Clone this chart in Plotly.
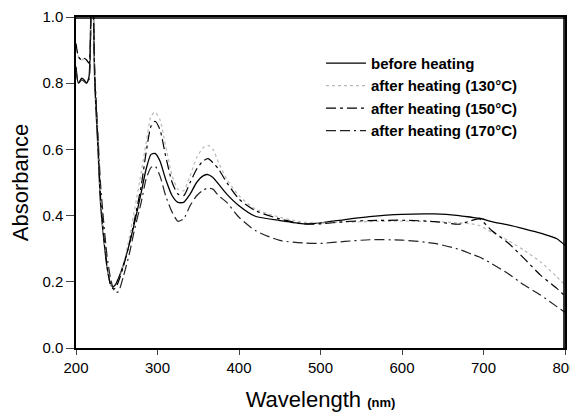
import plotly.graph_objects as go

wl = [200, 203, 207, 210, 213, 216, 219, 221, 223, 227, 230, 234, 238, 242, 245, 248, 252,
      258, 265, 272, 280, 286, 292, 297, 303, 310, 318, 325, 332, 340, 348, 356, 362, 368,
      375, 385, 400, 420, 450, 480, 500, 530, 560, 600, 640, 670, 685, 695, 710, 730, 750,
      770, 790, 800]

before = [0.85, 0.80, 0.815, 0.81, 0.80, 0.82, 1.10, 1.05, 0.80, 0.60, 0.44, 0.33, 0.245,
          0.195, 0.185, 0.19, 0.21, 0.25, 0.31, 0.38, 0.47, 0.54, 0.585, 0.588, 0.565, 0.51,
          0.46, 0.44, 0.44, 0.465, 0.50, 0.52, 0.524, 0.515, 0.495, 0.465, 0.43, 0.398, 0.385,
          0.375, 0.378, 0.388, 0.397, 0.404, 0.405, 0.40, 0.395, 0.392, 0.382, 0.372, 0.36,
          0.347, 0.33, 0.31]

heat130 = [0.92, 0.88, 0.87, 0.875, 0.87, 0.86, 1.10, 1.05, 0.82, 0.62, 0.46, 0.34, 0.25,
           0.195, 0.18, 0.18, 0.20, 0.25, 0.33, 0.42, 0.53, 0.62, 0.70, 0.713, 0.69, 0.61,
           0.52, 0.48, 0.475, 0.52, 0.575, 0.605, 0.612, 0.60, 0.56, 0.51, 0.46, 0.42, 0.395,
           0.38, 0.378, 0.38, 0.382, 0.383, 0.382, 0.378, 0.375, 0.37, 0.35, 0.325, 0.295,
           0.26, 0.215, 0.19]

heat150 = [0.92, 0.88, 0.87, 0.875, 0.87, 0.86, 1.10, 1.05, 0.82, 0.62, 0.46, 0.34, 0.25,
           0.195, 0.18, 0.18, 0.20, 0.245, 0.31, 0.39, 0.49, 0.59, 0.67, 0.685, 0.66, 0.58,
           0.50, 0.465, 0.46, 0.50, 0.54, 0.565, 0.572, 0.56, 0.54, 0.50, 0.45, 0.415, 0.39,
           0.375, 0.375, 0.382, 0.385, 0.386, 0.382, 0.374, 0.385, 0.39, 0.355, 0.318, 0.27,
           0.22, 0.18, 0.157]

heat170 = [0.84, 0.80, 0.81, 0.805, 0.80, 0.81, 1.10, 1.05, 0.84, 0.64, 0.50, 0.38, 0.28,
           0.215, 0.185, 0.168, 0.17, 0.215, 0.28, 0.36, 0.44, 0.51, 0.545, 0.55, 0.52, 0.46,
           0.41, 0.383, 0.39, 0.43, 0.46, 0.477, 0.483, 0.48, 0.46, 0.44, 0.395, 0.355, 0.325,
           0.317, 0.316, 0.322, 0.327, 0.326, 0.316, 0.298, 0.284, 0.275, 0.255, 0.225, 0.19,
           0.16, 0.125, 0.108]

x_ticks = [200, 300, 400, 500, 600, 700, 800]
y_ticks = [0.0, 0.2, 0.4, 0.6, 0.8, 1.0]

FONT = "Arial, Liberation Sans, sans-serif"

fig = go.Figure()
series = [
    ("before heating", before, dict(color="black", width=1.3, dash="solid")),
    ("after heating (130\u00b0C)", heat130, dict(color="#b8b8b8", width=1.2, dash="dot")),
    ("after heating (150\u00b0C)", heat150, dict(color="black", width=1.2, dash="10px,4px,3px,4px")),
    ("after heating (170\u00b0C)", heat170, dict(color="#222222", width=1.2, dash="10px,4px,10px,4px,2px,4px")),
]
for name, ys, ln in series:
    fig.add_trace(go.Scatter(x=wl, y=ys, mode="lines", name="<b>" + name + "</b>",
                             line=dict(shape="spline", smoothing=0.6, **ln)))

fig.update_layout(
    width=578, height=417,
    margin=dict(l=68, r=21, t=9, b=77),
    paper_bgcolor="white", plot_bgcolor="white",
    font=dict(family=FONT, color="black", size=16),
    showlegend=True,
    legend=dict(x=0.501, y=0.91, xanchor="left", yanchor="top",
                bgcolor="rgba(0,0,0,0)", borderwidth=0,
                font=dict(family=FONT, size=15, color="black"),
                tracegroupgap=0, itemwidth=40),
    shapes=[
        dict(type="line", xref="paper", yref="paper", x0=0, x1=1, y0=0.997, y1=0.997,
             line=dict(color="black", width=1.6), layer="above"),
        dict(type="line", xref="paper", yref="paper", x0=0.998, x1=0.998, y0=0, y1=1,
             line=dict(color="black", width=1.6), layer="above"),
    ],
)
fig.update_xaxes(range=[200, 800], tickvals=x_ticks, ticks="outside", ticklen=5,
                 showline=True, linecolor="black", linewidth=1.5, mirror=True,
                 showgrid=False, zeroline=False, automargin=False,
                 ticklabeloverflow="allow",
                 tickfont=dict(size=15, family=FONT),
                 title=dict(text="Wavelength <b><span style='font-size:13px'>(nm)</span></b>",
                            font=dict(size=22, family=FONT), standoff=17))
fig.update_yaxes(range=[0, 1.0], tickvals=y_ticks, tickformat=".1f", ticks="outside", ticklen=8,
                 showline=True, linecolor="black", linewidth=1.5, mirror=True,
                 showgrid=False, zeroline=False, automargin=False,
                 ticklabeloverflow="allow",
                 tickfont=dict(size=15, family=FONT),
                 title=dict(text="Absorbance", font=dict(size=22, family=FONT), standoff=23))

fig.write_html("out.html")
